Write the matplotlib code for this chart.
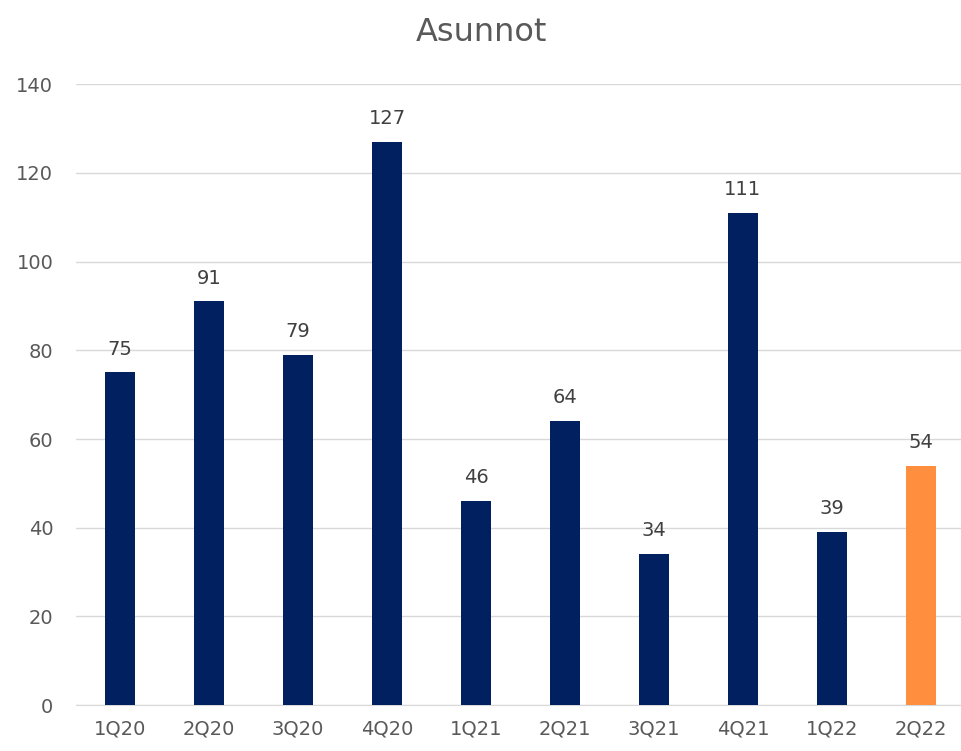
import matplotlib.pyplot as plt

quarters = ['1Q20', '2Q20', '3Q20', '4Q20', '1Q21', '2Q21', '3Q21', '4Q21', '1Q22', '2Q22']
values = [75, 91, 79, 127, 46, 64, 34, 111, 39, 54]
colors = ['#002060'] * 9 + ['#FF8F3F']

plt.rcParams['font.family'] = ['DejaVu Sans']
text_color = '#595959'

fig = plt.figure(figsize=(9.62, 7.51), dpi=100)
ax = fig.add_axes([0.0785, 0.061, 0.925, 0.827])

x = range(len(quarters))
bars = ax.bar(x, values, width=0.33, color=colors, zorder=3)
for rect, v in zip(bars, values):
    ax.annotate(str(v), (rect.get_x() + rect.get_width() / 2, v),
                xytext=(0, 10), textcoords='offset points',
                ha='center', va='bottom', fontsize=14, color='#404040')

ax.set_xlim(-0.5, len(quarters) - 0.5)
ax.set_ylim(0, 140)
ax.set_yticks(range(0, 141, 20))
ax.set_xticks(list(x))
ax.set_xticklabels(quarters)
ax.grid(axis='y', color='#d9d9d9', linewidth=1, zorder=0)
for s in ['top', 'right', 'left']:
    ax.spines[s].set_visible(False)
ax.spines['bottom'].set_color('#d9d9d9')
ax.tick_params(axis='both', length=0, labelsize=14, colors=text_color)
ax.tick_params(axis='y', pad=16)
ax.tick_params(axis='x', pad=10)

fig.suptitle('Asunnot', y=0.978, fontsize=23, color=text_color)

fig.savefig('out.png', dpi=100)
